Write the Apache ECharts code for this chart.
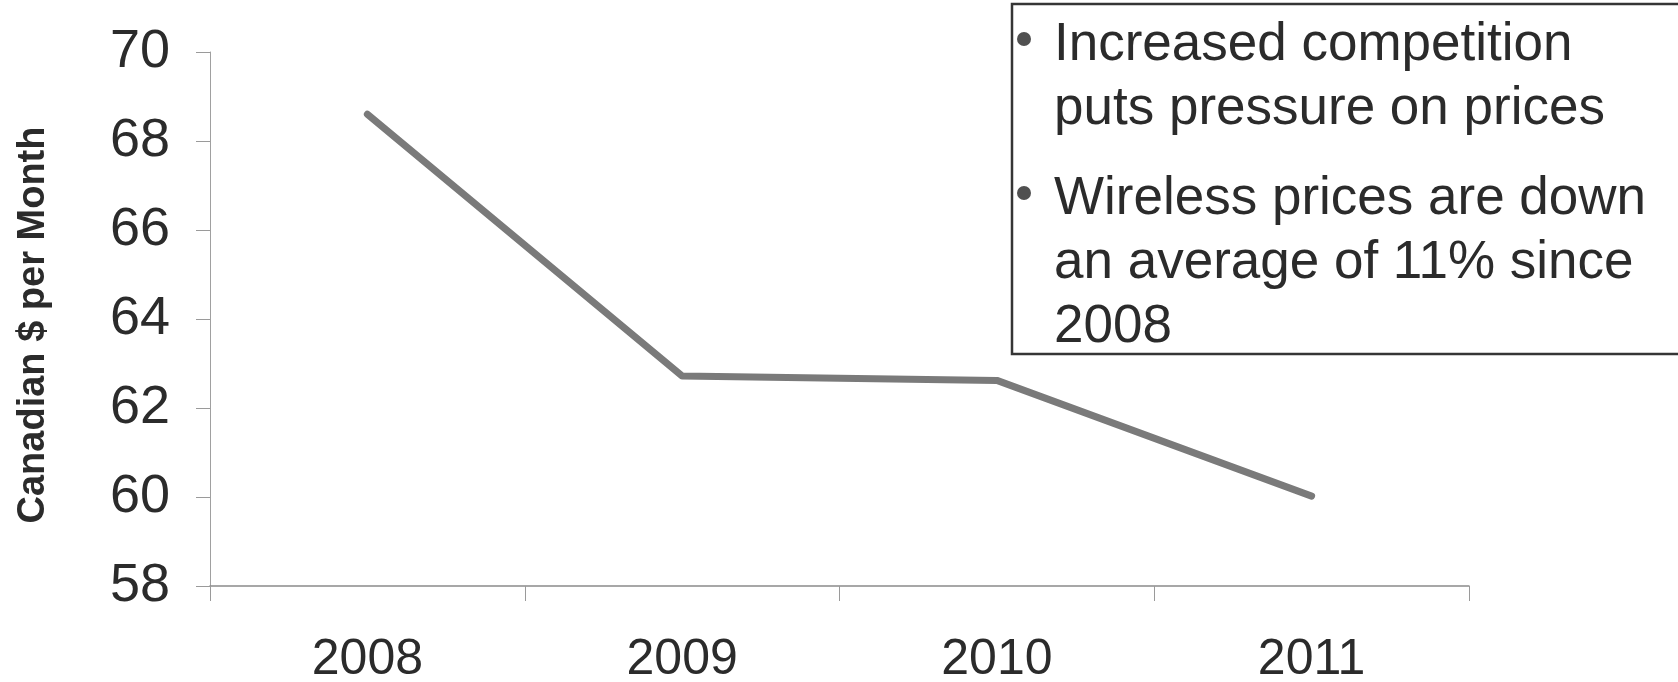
<!DOCTYPE html>
<html>
<head>
<meta charset="utf-8">
<title>Canadian wireless prices</title>
<script src="https://cdn.jsdelivr.net/npm/echarts@6/dist/echarts.min.js"></script>
<style>
  html, body { margin: 0; padding: 0; background: #fff; }
  #chart { width: 1678px; height: 682px; }
</style>
</head>
<body>
<div id="chart"></div>
<script>
// Average monthly wireless price, Canadian dollars
const years = ['2008', '2009', '2010', '2011'];
const pricePerMonth = [68.6, 62.72, 62.62, 60.02];
const yTicks = { min: 58, max: 70, step: 2 };
const yAxisTitle = 'Canadian $ per Month';

// Call-out notes shown in the boxed panel
const noteLines = [
  ['Increased competition', 'puts pressure on prices'],
  ['Wireless prices are down', 'an average of 11% since', '2008']
];

const FONT = '"Liberation Sans", Arial, Helvetica, sans-serif';
const TEXT_COLOR = '#2b2b2b';

// Build the text elements for the note panel
const noteElements = [];
const lineGap = 64, paraGap = 90;
let y = 45;
noteLines.forEach((para, pi) => {
  noteElements.push({
    type: 'circle',
    shape: { cx: 1024, cy: y - 6, r: 7 },
    style: { fill: '#505050' },
    z: 11
  });
  para.forEach((txt, li) => {
    noteElements.push({
      type: 'text',
      x: 1054,
      y: y,
      style: {
        text: txt,
        font: '53px ' + FONT,
        fill: TEXT_COLOR,
        verticalAlign: 'middle',
        align: 'left'
      },
      z: 11
    });
    if (li < para.length - 1) y += lineGap;
  });
  if (pi < noteLines.length - 1) y += paraGap;
});

const chart = echarts.init(document.getElementById('chart'), null, { renderer: 'canvas' });
chart.setOption({
  backgroundColor: '#ffffff',
  animation: false,
  grid: {
    left: 210, right: 209, top: 52, bottom: 96,
    containLabel: false,
    outerBoundsMode: 'none'
  },
  xAxis: {
    type: 'category',
    data: years,
    boundaryGap: true,
    axisLine: { show: true, lineStyle: { color: '#8a8a8a', width: 1.5 } },
    axisTick: { show: true, alignWithLabel: false, length: 15, lineStyle: { color: '#9a9a9a', width: 1 } },
    axisLabel: { fontSize: 50, fontFamily: FONT, color: TEXT_COLOR, margin: 49 },
    splitLine: { show: false }
  },
  yAxis: {
    type: 'value',
    min: yTicks.min,
    max: yTicks.max,
    interval: yTicks.step,
    name: yAxisTitle,
    nameLocation: 'middle',
    nameGap: 157,
    nameRotate: 90,
    nameTextStyle: {
      fontSize: 38, fontWeight: 'bold', fontFamily: FONT, color: TEXT_COLOR,
      padding: [0, 12, 0, 0]
    },
    axisLine: { show: true, lineStyle: { color: '#a0a0a0', width: 1 } },
    axisTick: { show: true, length: 14, lineStyle: { color: '#9a9a9a', width: 1 } },
    axisLabel: { fontSize: 54, fontFamily: FONT, color: TEXT_COLOR, margin: 40 },
    splitLine: { show: false }
  },
  series: [{
    type: 'line',
    data: pricePerMonth,
    symbol: 'none',
    lineStyle: { color: '#7a7a7a', width: 7, cap: 'round', join: 'round' },
    z: 5
  }],
  graphic: [
    {
      type: 'rect',
      shape: { x: 1012, y: 4, width: 680, height: 350 },
      style: { fill: '#ffffff', stroke: '#353535', lineWidth: 2.5 },
      z: 10
    }
  ].concat(noteElements)
});
</script>
</body>
</html>
